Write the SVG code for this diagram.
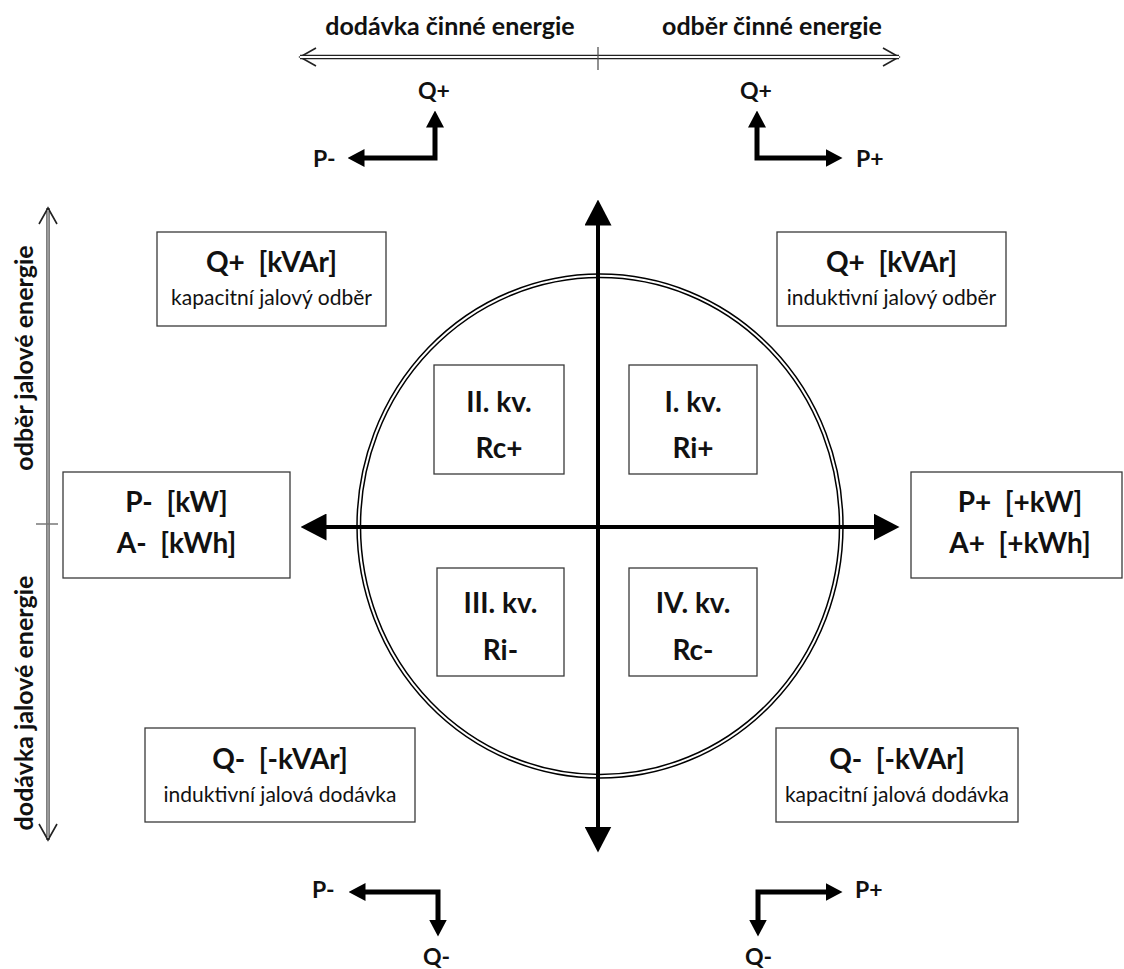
<svg xmlns="http://www.w3.org/2000/svg" width="1124" height="969" viewBox="0 0 1124 969">
<style>
.box{fill:#fff;stroke:#3a3a3a;stroke-width:1.3}
.t{font-family:Lato,'Liberation Sans',sans-serif;font-weight:700;font-size:28px;text-anchor:middle;fill:#111}
.s{font-family:Lato,'Liberation Sans',sans-serif;font-weight:400;font-size:21px;text-anchor:middle;fill:#111}
.h{font-family:Lato,'Liberation Sans',sans-serif;font-weight:700;font-size:25px;text-anchor:middle;fill:#111}
.l{font-family:Lato,'Liberation Sans',sans-serif;font-weight:700;font-size:23px;fill:#111}
.axis{fill:none;stroke:#000;stroke-width:4}
.elb{fill:none;stroke:#000;stroke-width:5;stroke-linejoin:miter}
.circ{fill:none;stroke:#000;stroke-width:1.5}
</style>
<defs>
<marker id="big" viewBox="0 0 26 27" markerWidth="26" markerHeight="27" markerUnits="userSpaceOnUse" refX="0.5" refY="13.5" orient="auto-start-reverse"><path d="M0,0 L26,13.5 L0,27 z" fill="#000"/></marker>
<marker id="sm" viewBox="0 0 17 18" markerWidth="17" markerHeight="18" markerUnits="userSpaceOnUse" refX="0.5" refY="9" orient="auto-start-reverse"><path d="M0,0 L17,9 L0,18 z" fill="#000"/></marker>
<marker id="chev" viewBox="-2 -11 20 22" markerWidth="20" markerHeight="22" markerUnits="userSpaceOnUse" refX="16" refY="0" orient="auto-start-reverse"><path d="M0,-9 L16,0 L0,9" fill="none" stroke="#222" stroke-width="1.6"/></marker>
</defs>

<g id="circle">
<ellipse class="circ" cx="600" cy="526" rx="243" ry="252"/>
<ellipse class="circ" cx="600" cy="526" rx="239.5" ry="248.5"/>
</g>

<g id="connectors">
<path class="axis" d="M326,527 H874" marker-start="url(#big)" marker-end="url(#big)"/>
<path class="axis" d="M598,225 V827" marker-start="url(#big)" marker-end="url(#big)"/>
<path class="elb" d="M435,127 V158 H364" marker-start="url(#sm)" marker-end="url(#sm)"/>
<path class="elb" d="M757,127 V158 H826" marker-start="url(#sm)" marker-end="url(#sm)"/>
<path class="elb" d="M365,892 H438 V920" marker-start="url(#sm)" marker-end="url(#sm)"/>
<path class="elb" d="M826,892 H758 V920" marker-start="url(#sm)" marker-end="url(#sm)"/>
<path d="M300,57 H899" fill="none" stroke="#222" stroke-width="4.5" marker-start="url(#chev)" marker-end="url(#chev)"/>
<path d="M300,57 H899" fill="none" stroke="#fff" stroke-width="2"/>
<line x1="598" y1="47" x2="598" y2="70" stroke="#555" stroke-width="1.3"/>
<path d="M48,208 V840" fill="none" stroke="#555" stroke-width="3.5" marker-start="url(#chev)" marker-end="url(#chev)"/>
<path d="M48,210 V838" fill="none" stroke="#c8c8c8" stroke-width="1.2"/>
<line x1="36" y1="524" x2="58" y2="524" stroke="#777" stroke-width="1.5"/>
</g>

<g id="labels-top">
<text class="h" x="450" y="35">dodávka činné energie</text>
<text class="h" x="772" y="35">odběr činné energie</text>
</g>
<g id="labels-left">
<text class="h" transform="translate(33,358) rotate(-90)">odběr jalové energie</text>
<text class="h" transform="translate(33,703) rotate(-90)">dodávka jalové energie</text>
</g>

<g id="elbow-labels">
<text class="l" x="418" y="99">Q+</text>
<text class="l" x="313" y="167">P-</text>
<text class="l" x="740" y="99">Q+</text>
<text class="l" x="856" y="167">P+</text>
<text class="l" x="312" y="898">P-</text>
<text class="l" x="423" y="965">Q-</text>
<text class="l" x="855" y="898">P+</text>
<text class="l" x="745" y="965">Q-</text>
</g>

<g id="box-q-plus-left">
<rect class="box" x="157" y="232" width="229" height="94"/>
<text class="t" x="271.5" y="272" xml:space="preserve">Q+  [kVAr]</text>
<text class="s" x="271.5" y="305">kapacitní jalový odběr</text>
</g>
<g id="box-q-plus-right">
<rect class="box" x="777" y="232" width="229" height="94"/>
<text class="t" x="891.5" y="272" xml:space="preserve">Q+  [kVAr]</text>
<text class="s" x="891.5" y="305">induktivní jalový odběr</text>
</g>
<g id="box-q-minus-left">
<rect class="box" x="145" y="728" width="270" height="94"/>
<text class="t" x="280" y="769" xml:space="preserve">Q-  [-kVAr]</text>
<text class="s" x="280" y="802">induktivní jalová dodávka</text>
</g>
<g id="box-q-minus-right">
<rect class="box" x="776" y="728" width="242" height="94"/>
<text class="t" x="897" y="769" xml:space="preserve">Q-  [-kVAr]</text>
<text class="s" x="897" y="802">kapacitní jalová dodávka</text>
</g>

<g id="box-p-minus">
<rect class="box" x="63" y="472" width="227" height="106"/>
<text class="t" x="176.5" y="512" xml:space="preserve">P-  [kW]</text>
<text class="t" x="176.5" y="553" xml:space="preserve">A-  [kWh]</text>
</g>
<g id="box-p-plus">
<rect class="box" x="911" y="472" width="211" height="106"/>
<text class="t" x="1020" y="512" xml:space="preserve">P+  [+kW]</text>
<text class="t" x="1020" y="553" xml:space="preserve">A+  [+kWh]</text>
</g>

<g id="q2">
<rect class="box" x="434" y="365" width="130" height="109"/>
<text class="t" x="499" y="412">II. kv.</text>
<text class="t" x="499" y="458">Rc+</text>
</g>
<g id="q1">
<rect class="box" x="629" y="365" width="128" height="109"/>
<text class="t" x="693" y="412">I. kv.</text>
<text class="t" x="693" y="458">Ri+</text>
</g>
<g id="q3">
<rect class="box" x="437" y="568" width="127" height="108"/>
<text class="t" x="500.5" y="613">III. kv.</text>
<text class="t" x="500.5" y="660">Ri-</text>
</g>
<g id="q4">
<rect class="box" x="629" y="568" width="128" height="108"/>
<text class="t" x="693" y="613">IV. kv.</text>
<text class="t" x="693" y="660">Rc-</text>
</g>
</svg>
